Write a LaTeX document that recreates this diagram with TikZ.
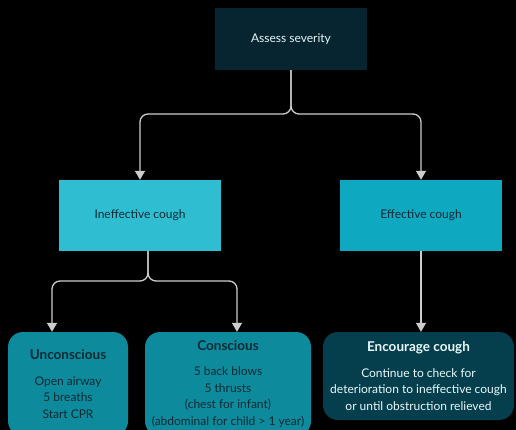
\documentclass[tikz,border=0pt]{standalone}
\usepackage{fontspec}
\setmainfont{Lato}
\definecolor{chokebg}{RGB}{0,0,0}
\definecolor{chokenavy}{RGB}{6,37,48}
\definecolor{chokecyan}{RGB}{46,189,209}
\definecolor{chokeblue}{RGB}{15,168,193}
\definecolor{choketeal}{RGB}{13,138,155}
\definecolor{chokedeep}{RGB}{5,63,77}
\definecolor{choketext}{RGB}{10,42,52}
\definecolor{chokeline}{RGB}{205,205,205}
\usetikzlibrary{arrows.meta, positioning}

\begin{document}
\begin{tikzpicture}[x=1pt, y=-1pt,
  topbox/.style={fill=chokenavy, text=white!88!chokecyan, minimum width=152pt, minimum height=62pt, inner sep=0pt, font=\fontsize{12}{14}\selectfont},
  coughbox/.style={minimum width=162pt, minimum height=71pt, inner sep=0pt, text=choketext, font=\fontsize{12}{14}\selectfont},
  actbox/.style={rounded corners=15pt, minimum height=104pt, inner sep=0pt, align=center, text=choketext, font=\fontsize{12}{16.5}\selectfont},
  arr/.style={-{Triangle[width=10pt, length=9pt]}, line width=1.3pt, chokeline, rounded corners=8pt}
]
\useasboundingbox (0,0) rectangle (516,430);
\fill[chokebg] (0,0) rectangle (516,430);
\clip (0,0) rectangle (516,430);

\node[topbox] (assess) at (291,39) {Assess severity};
\node[coughbox, fill=chokecyan] (ineff) at (140,215.5) {Ineffective cough};
\node[coughbox, fill=chokeblue] (eff) at (421,215.5) {Effective cough};
\node[actbox, fill=choketeal, minimum width=120pt] (uncon) at (68,384)
  {{\bfseries\fontsize{13.5}{16}\selectfont Unconscious}\\[9pt]Open airway\\5 breaths\\Start CPR};
\node[actbox, fill=choketeal, minimum width=166pt] (consc) at (228,384)
  {{\bfseries\fontsize{13.5}{16}\selectfont Conscious}\\[9pt]5 back blows\\5 thrusts\\(chest for infant)\\(abdominal for child > 1 year)};
\node[actbox, fill=chokedeep, minimum width=191pt, minimum height=88pt, text=white!90!chokecyan] (enc) at (418.5,376)
  {{\bfseries\fontsize{13.5}{16}\selectfont Encourage cough}\\[9pt]Continue to check for\\deterioration to ineffective cough\\or until obstruction relieved};

\coordinate (split1) at (291,114);
\coordinate (ineffout) at (148,251);
\coordinate (split2) at (148,281);

\draw[arr] (assess.south) -- (split1) -| (ineff.north);
\draw[arr] (assess.south) -- (split1) -| (eff.north);
\draw[arr] (ineffout) -- (split2) -| ([xshift=-16pt]uncon.north);
\draw[arr] (ineffout) -- (split2) -| ([xshift=9pt]consc.north);
\draw[arr] (eff.south) -- (eff.south |- enc.north);

\end{tikzpicture}
\end{document}
